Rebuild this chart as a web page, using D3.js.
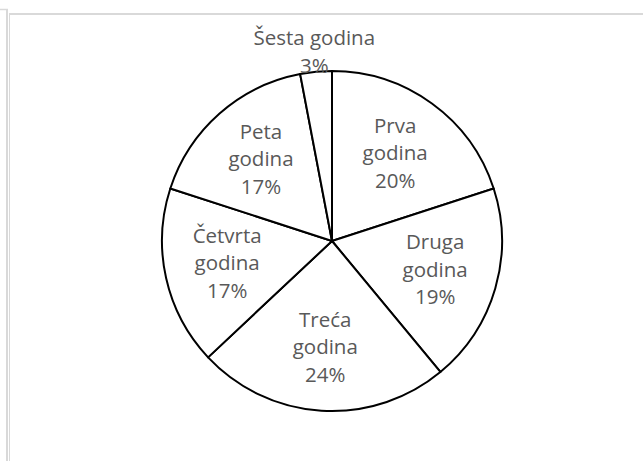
<!DOCTYPE html>
<html>
<head>
<meta charset="utf-8">
<script src="https://cdn.jsdelivr.net/npm/d3@7"></script>
<style>
  html, body { margin: 0; padding: 0; background: #fff; }
  svg { display: block; }
</style>
</head>
<body>
<svg id="chart" width="643" height="461"></svg>
<script>
const categories = ["Prva godina", "Druga godina", "Treća godina", "Četvrta godina", "Peta godina", "Šesta godina"];
const values = [20, 19, 24, 17, 17, 3];
const outsideLabels = ["Šesta godina"];

const W = 643, H = 461;
const svg = d3.select("#chart");

// frame lines
const frameColor = "#d9d9d9";
svg.append("line").attr("x1", 0).attr("x2", 8).attr("y1", 9.5).attr("y2", 9.5)
  .attr("stroke", frameColor).attr("stroke-width", 1.5);
svg.append("line").attr("x1", 7).attr("x2", 7).attr("y1", 9).attr("y2", H)
  .attr("stroke", frameColor).attr("stroke-width", 2);
svg.append("line").attr("x1", 9.5).attr("x2", 9.5).attr("y1", 13).attr("y2", H)
  .attr("stroke", frameColor).attr("stroke-width", 1);
svg.append("line").attr("x1", 9).attr("x2", W).attr("y1", 14).attr("y2", 14)
  .attr("stroke", frameColor).attr("stroke-width", 2);

const cx = 332, cy = 241, r = 170;
const g = svg.append("g").attr("transform", `translate(${cx},${cy})`);

const data = categories.map((c, i) => ({ name: c, value: values[i] }));
const total = d3.sum(values);
const pie = d3.pie().value(d => d.value).sort(null);
const arcs = pie(data);
const arc = d3.arc().innerRadius(0).outerRadius(r);

g.selectAll("path.slice").data(arcs).enter().append("path")
  .attr("class", "slice")
  .attr("d", arc)
  .attr("fill", "#ffffff")
  .attr("stroke", "#000")
  .attr("stroke-width", 2)
  .attr("stroke-linejoin", "round");

const fontSize = 20.5, lineH = 27.5;
const labelArcIn = d3.arc().innerRadius(0.632 * r * 2 - 0.632 * r).outerRadius(0.632 * r);
const labelArcOut = d3.arc().innerRadius(1.11 * r).outerRadius(1.11 * r);

arcs.forEach(a => {
  const pct = Math.round(a.data.value / total * 100) + "%";
  const outside = outsideLabels.includes(a.data.name);
  let lines, pos;
  if (outside) {
    lines = [a.data.name, pct];
    pos = labelArcOut.centroid(a);
  } else {
    lines = a.data.name.split(" ").concat([pct]);
    pos = labelArcIn.centroid(a);
  }
  const n = lines.length;
  const t = g.append("text")
    .attr("font-family", "'Open Sans', sans-serif")
    .attr("font-size", fontSize)
    .attr("fill", "#595959")
    .attr("text-anchor", "middle");
  lines.forEach((ln, i) => {
    t.append("tspan")
      .attr("x", pos[0])
      .attr("y", pos[1] + (i - (n - 1) / 2) * lineH + 6)
      .text(ln);
  });
});
</script>
</body>
</html>
